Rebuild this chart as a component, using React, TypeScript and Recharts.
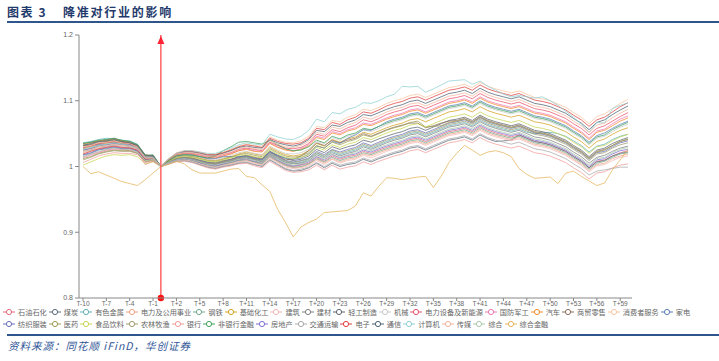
import React from 'react';
import { LineChart, Line, XAxis, YAxis, ReferenceLine } from 'recharts';

const labels = ["T-10","T-9","T-8","T-7","T-6","T-5","T-4","T-3","T-2","T-1","T0",
"T+1","T+2","T+3","T+4","T+5","T+6","T+7","T+8","T+9","T+10",
"T+11","T+12","T+13","T+14","T+15","T+16","T+17","T+18","T+19","T+20",
"T+21","T+22","T+23","T+24","T+25","T+26","T+27","T+28","T+29","T+30",
"T+31","T+32","T+33","T+34","T+35","T+36","T+37","T+38","T+39","T+40",
"T+41","T+42","T+43","T+44","T+45","T+46","T+47","T+48","T+49","T+50",
"T+51","T+52","T+53","T+54","T+55","T+56","T+57","T+58","T+59","T+60"];

const yTicks = [0.8, 0.9, 1, 1.1, 1.2];

const shiyou = [1.031,1.033,1.035,1.038,1.038,1.037,1.034,1.031,1.016,1.014,1.000,
1.006,1.010,1.011,1.010,1.006,1.002,1.001,1.004,1.006,1.010,1.011,1.007,1.005,1.016,1.009,1.003,1.000,1.002,1.005,1.014,1.008,1.016,1.011,1.015,1.017,1.023,1.020,1.025,
1.029,1.033,1.036,1.041,1.043,1.038,1.043,1.048,1.053,1.055,1.058,1.053,1.061,1.055,1.051,1.048,1.045,1.048,1.043,1.038,1.036,1.033,1.028,1.023,1.015,1.008,0.998,
1.008,1.010,1.016,1.021,1.024];
const meitan = [1.035,1.037,1.038,1.041,1.043,1.038,1.038,1.033,1.018,1.016,1.000,
1.004,1.008,1.009,1.007,1.003,0.999,0.997,1.000,1.002,1.005,1.006,1.003,1.000,1.010,1.003,0.996,0.993,0.994,0.998,1.005,0.998,1.005,1.000,1.003,1.005,1.011,1.007,1.012,
1.016,1.020,1.023,1.028,1.030,1.025,1.030,1.035,1.040,1.042,1.045,1.040,1.048,1.042,1.038,1.039,1.040,1.048,1.043,1.038,1.036,1.033,1.028,1.023,1.015,1.008,0.998,
1.007,1.009,1.016,1.020,1.022];
const youse = [1.036,1.038,1.041,1.043,1.042,1.040,1.039,1.034,1.016,1.018,1.000,
1.006,1.011,1.013,1.011,1.008,1.005,1.003,1.006,1.009,1.012,1.014,1.011,1.008,1.019,1.013,1.007,1.005,1.006,1.011,1.020,1.015,1.023,1.018,1.022,1.025,1.032,1.028,1.033,
1.038,1.042,1.045,1.050,1.052,1.047,1.052,1.057,1.062,1.064,1.067,1.062,1.070,1.064,1.060,1.057,1.054,1.057,1.052,1.050,1.051,1.052,1.050,1.046,1.039,1.032,1.022,
1.031,1.034,1.041,1.046,1.049];
const dianli = [1.021,1.024,1.028,1.030,1.032,1.030,1.029,1.025,1.011,1.013,1.000,
1.005,1.009,1.010,1.009,1.005,1.001,1.000,1.003,1.005,1.008,1.009,1.006,1.003,1.014,1.007,1.001,0.998,0.999,1.003,1.011,1.005,1.012,1.007,1.011,1.013,1.019,1.016,1.021,
1.025,1.029,1.032,1.037,1.039,1.034,1.039,1.044,1.049,1.051,1.054,1.049,1.057,1.051,1.047,1.044,1.041,1.044,1.039,1.034,1.032,1.029,1.024,1.019,1.011,1.004,0.994,
1.003,1.005,1.012,1.016,1.019];
const gangtie = [1.033,1.034,1.039,1.040,1.040,1.039,1.037,1.031,1.015,1.017,1.000,
1.005,1.009,1.011,1.009,1.005,1.002,1.000,1.003,1.006,1.009,1.010,1.007,1.004,1.015,1.008,1.002,0.999,1.000,1.004,1.012,1.007,1.014,1.009,1.013,1.015,1.021,1.018,1.023,
1.027,1.031,1.034,1.039,1.041,1.036,1.041,1.046,1.051,1.053,1.056,1.051,1.059,1.053,1.049,1.046,1.043,1.046,1.041,1.036,1.034,1.031,1.026,1.021,1.013,1.006,0.996,
1.005,1.008,1.014,1.019,1.021];
const jichu = [1.027,1.030,1.033,1.035,1.037,1.035,1.033,1.029,1.014,1.015,1.000,
1.008,1.015,1.017,1.016,1.013,1.010,1.009,1.012,1.015,1.019,1.022,1.019,1.017,1.029,1.023,1.018,1.016,1.018,1.024,1.035,1.031,1.041,1.037,1.042,1.045,1.052,1.049,1.054,
1.059,1.063,1.066,1.071,1.073,1.068,1.073,1.078,1.083,1.085,1.088,1.083,1.091,1.085,1.081,1.078,1.075,1.078,1.073,1.068,1.066,1.063,1.058,1.053,1.045,1.038,1.028,
1.038,1.042,1.049,1.055,1.059];
const jianzhu = [1.013,1.017,1.021,1.024,1.026,1.025,1.024,1.021,1.008,1.010,1.000,
1.005,1.009,1.010,1.008,1.004,1.001,0.999,1.002,1.004,1.007,1.009,1.005,1.002,1.013,1.006,0.999,0.997,0.998,1.001,1.009,1.003,1.011,1.005,1.009,1.011,1.017,1.013,1.018,
1.023,1.027,1.030,1.035,1.037,1.032,1.037,1.042,1.047,1.049,1.052,1.047,1.055,1.049,1.045,1.042,1.039,1.042,1.037,1.032,1.030,1.027,1.022,1.017,1.009,1.002,0.992,
1.001,1.003,1.009,1.014,1.016];
const jiancai = [1.028,1.032,1.034,1.037,1.037,1.035,1.035,1.029,1.014,1.016,1.000,
1.006,1.011,1.012,1.011,1.007,1.004,1.003,1.006,1.008,1.012,1.013,1.010,1.007,1.018,1.012,1.006,1.004,1.005,1.009,1.018,1.013,1.021,1.016,1.020,1.023,1.030,1.026,1.031,
1.036,1.040,1.043,1.048,1.050,1.045,1.050,1.055,1.060,1.062,1.065,1.060,1.068,1.062,1.058,1.055,1.052,1.055,1.050,1.045,1.043,1.040,1.035,1.030,1.022,1.015,1.005,
1.014,1.017,1.023,1.028,1.031];
const qinggong = [1.025,1.027,1.031,1.033,1.035,1.033,1.032,1.027,1.013,1.014,1.000,
1.007,1.013,1.014,1.013,1.010,1.007,1.006,1.009,1.011,1.015,1.017,1.014,1.012,1.023,1.017,1.012,1.009,1.011,1.016,1.026,1.021,1.030,1.026,1.030,1.033,1.040,1.037,1.042,
1.046,1.050,1.053,1.058,1.060,1.055,1.060,1.065,1.070,1.072,1.075,1.070,1.078,1.072,1.068,1.065,1.062,1.065,1.060,1.055,1.053,1.050,1.045,1.040,1.032,1.025,1.015,
1.025,1.028,1.035,1.040,1.044];
const jixie = [1.022,1.025,1.029,1.031,1.033,1.031,1.030,1.026,1.012,1.013,1.000,
1.009,1.015,1.018,1.017,1.014,1.011,1.010,1.013,1.017,1.021,1.023,1.020,1.018,1.031,1.025,1.020,1.019,1.021,1.026,1.038,1.035,1.044,1.040,1.046,1.049,1.056,1.053,1.058,
1.064,1.068,1.071,1.076,1.078,1.073,1.078,1.083,1.088,1.090,1.093,1.088,1.096,1.090,1.086,1.083,1.080,1.083,1.078,1.073,1.071,1.068,1.063,1.058,1.050,1.043,1.033,
1.043,1.046,1.053,1.060,1.064];
const diansheng = [1.029,1.031,1.035,1.036,1.038,1.036,1.034,1.030,1.015,1.015,1.000,
1.010,1.018,1.020,1.020,1.018,1.015,1.015,1.018,1.021,1.026,1.028,1.026,1.024,1.037,1.032,1.028,1.027,1.029,1.035,1.049,1.046,1.056,1.053,1.059,1.063,1.071,1.068,1.073,
1.079,1.083,1.086,1.091,1.093,1.088,1.093,1.098,1.103,1.105,1.108,1.103,1.111,1.105,1.101,1.098,1.095,1.098,1.093,1.088,1.086,1.083,1.078,1.073,1.065,1.058,1.048,
1.058,1.062,1.069,1.076,1.082];
const guofang = [1.014,1.018,1.022,1.025,1.027,1.026,1.025,1.022,1.003,1.008,1.000,
1.010,1.017,1.020,1.019,1.017,1.014,1.013,1.016,1.020,1.024,1.027,1.024,1.023,1.036,1.030,1.026,1.024,1.027,1.033,1.046,1.043,1.053,1.050,1.056,1.059,1.066,1.064,1.069,
1.074,1.078,1.081,1.086,1.088,1.083,1.088,1.093,1.098,1.100,1.103,1.098,1.106,1.100,1.096,1.093,1.090,1.093,1.088,1.083,1.081,1.078,1.073,1.068,1.060,1.053,1.043,
1.054,1.057,1.065,1.072,1.077];
const qiche = [1.034,1.036,1.039,1.040,1.042,1.039,1.037,1.032,1.017,1.017,1.000,
1.010,1.017,1.019,1.019,1.016,1.013,1.013,1.016,1.019,1.024,1.026,1.023,1.022,1.035,1.029,1.025,1.023,1.026,1.031,1.044,1.041,1.051,1.048,1.054,1.057,1.064,1.062,1.067,
1.072,1.076,1.079,1.084,1.086,1.081,1.086,1.091,1.096,1.098,1.101,1.096,1.104,1.098,1.094,1.091,1.088,1.091,1.086,1.081,1.079,1.076,1.071,1.066,1.058,1.051,1.041,
1.052,1.055,1.062,1.069,1.074];
const shangmao = [1.031,1.033,1.037,1.038,1.040,1.037,1.036,1.031,1.016,1.016,1.000,
1.007,1.012,1.014,1.013,1.009,1.006,1.005,1.008,1.011,1.014,1.016,1.013,1.011,1.022,1.016,1.010,1.011,1.016,1.024,1.036,1.032,1.040,1.036,1.040,1.043,1.050,1.046,1.051,
1.056,1.060,1.063,1.066,1.066,1.059,1.062,1.066,1.069,1.070,1.073,1.068,1.076,1.070,1.066,1.063,1.060,1.063,1.058,1.053,1.051,1.048,1.043,1.038,1.030,1.023,1.013,
1.023,1.026,1.032,1.038,1.041];
const xiaofei = [1.030,1.032,1.036,1.037,1.039,1.036,1.035,1.030,1.015,1.015,1.000,
1.012,1.021,1.024,1.024,1.022,1.019,1.019,1.022,1.026,1.031,1.034,1.032,1.031,1.045,1.040,1.037,1.036,1.039,1.046,1.061,1.059,1.070,1.068,1.075,1.079,1.087,1.085,1.090,
1.096,1.100,1.103,1.108,1.110,1.105,1.110,1.115,1.120,1.122,1.125,1.120,1.128,1.122,1.118,1.115,1.112,1.115,1.110,1.105,1.103,1.100,1.095,1.090,1.082,1.075,1.065,
1.076,1.080,1.088,1.096,1.102];
const jiadian = [1.017,1.020,1.025,1.027,1.029,1.027,1.027,1.023,1.010,1.011,1.000,
1.009,1.016,1.018,1.018,1.015,1.012,1.012,1.015,1.015,1.015,1.016,1.012,1.010,1.023,1.017,1.013,1.011,1.013,1.019,1.031,1.028,1.038,1.035,1.043,1.048,1.056,1.055,1.061,
1.068,1.072,1.075,1.080,1.082,1.077,1.082,1.087,1.092,1.094,1.097,1.092,1.100,1.094,1.090,1.087,1.084,1.087,1.082,1.077,1.075,1.072,1.067,1.062,1.054,1.047,1.037,
1.047,1.051,1.058,1.064,1.069];
const fangzhi = [1.018,1.021,1.026,1.028,1.030,1.028,1.028,1.024,1.010,1.012,1.000,
1.007,1.012,1.014,1.012,1.009,1.006,1.004,1.007,1.010,1.014,1.015,1.012,1.010,1.021,1.015,1.009,1.007,1.009,1.013,1.023,1.018,1.026,1.022,1.026,1.029,1.036,1.032,1.037,
1.042,1.046,1.049,1.054,1.056,1.051,1.056,1.061,1.066,1.068,1.071,1.066,1.074,1.068,1.064,1.061,1.058,1.061,1.056,1.051,1.049,1.046,1.041,1.036,1.028,1.021,1.011,
1.021,1.023,1.030,1.036,1.039];
const yiyao = [1.012,1.015,1.020,1.023,1.025,1.024,1.024,1.020,1.008,1.010,1.000,
1.008,1.014,1.016,1.015,1.012,1.009,1.008,1.011,1.014,1.018,1.020,1.017,1.015,1.027,1.021,1.016,1.014,1.016,1.021,1.032,1.028,1.037,1.033,1.038,1.041,1.048,1.045,1.050,
1.055,1.059,1.062,1.067,1.069,1.060,1.061,1.062,1.067,1.069,1.072,1.067,1.075,1.069,1.065,1.062,1.059,1.062,1.057,1.052,1.050,1.047,1.042,1.037,1.029,1.022,1.012,
1.022,1.025,1.032,1.038,1.042];
const shipin = [1.002,1.007,1.012,1.016,1.018,1.017,1.018,1.015,1.004,1.007,1.000,
1.008,1.013,1.015,1.014,1.011,1.008,1.007,1.010,1.013,1.017,1.018,1.015,1.013,1.025,1.019,1.014,1.012,1.014,1.018,1.029,1.025,1.033,1.029,1.034,1.037,1.044,1.041,1.046,
1.051,1.055,1.058,1.063,1.065,1.060,1.065,1.070,1.075,1.077,1.080,1.075,1.083,1.077,1.073,1.070,1.067,1.070,1.065,1.060,1.058,1.055,1.050,1.045,1.037,1.030,1.020,
1.030,1.032,1.039,1.045,1.049];
const nonglin = [1.010,1.014,1.019,1.022,1.024,1.023,1.023,1.020,1.007,1.009,1.000,
1.007,1.012,1.013,1.012,1.008,1.005,1.004,1.007,1.009,1.013,1.015,1.011,1.009,1.020,1.014,1.008,1.006,1.008,1.012,1.021,1.016,1.025,1.020,1.024,1.027,1.034,1.030,1.035,
1.040,1.044,1.047,1.052,1.054,1.049,1.054,1.059,1.064,1.066,1.069,1.064,1.072,1.066,1.062,1.059,1.056,1.059,1.054,1.049,1.047,1.044,1.039,1.034,1.026,1.019,1.009,
1.019,1.021,1.028,1.033,1.036];
const yinhang = [1.006,1.011,1.016,1.019,1.021,1.020,1.020,1.018,1.006,1.008,1.000,
1.004,1.007,1.008,1.006,1.002,0.998,0.996,0.999,1.001,1.004,1.005,1.001,0.998,1.008,1.001,0.994,0.991,0.992,0.995,1.002,0.995,1.002,0.996,0.999,1.001,1.007,1.003,1.008,
1.012,1.016,1.019,1.024,1.026,1.021,1.026,1.031,1.036,1.038,1.041,1.036,1.044,1.038,1.034,1.031,1.028,1.031,1.026,1.021,1.019,1.016,1.011,1.006,0.998,0.991,0.981,
0.990,0.992,0.998,1.002,1.004];
const feiyin = [1.035,1.037,1.040,1.041,1.043,1.040,1.038,1.033,1.017,1.017,1.000,
1.009,1.016,1.018,1.017,1.015,1.013,1.016,1.024,1.030,1.037,1.038,1.036,1.034,1.040,1.033,1.027,1.024,1.025,1.030,1.040,1.036,1.046,1.042,1.048,1.051,1.058,1.056,1.061,
1.066,1.070,1.073,1.078,1.080,1.075,1.080,1.085,1.090,1.092,1.095,1.090,1.098,1.092,1.088,1.085,1.082,1.085,1.080,1.075,1.073,1.070,1.065,1.060,1.052,1.045,1.035,
1.045,1.048,1.056,1.062,1.067];
const fangdichan = [1.025,1.028,1.033,1.033,1.035,1.033,1.033,1.027,1.013,1.015,1.000,
1.006,1.010,1.012,1.010,1.006,1.003,1.001,1.004,1.007,1.010,1.012,1.008,1.006,1.017,1.010,1.004,1.001,1.003,1.007,1.015,1.010,1.018,1.013,1.017,1.019,1.025,1.022,1.027,
1.031,1.035,1.038,1.043,1.045,1.040,1.045,1.050,1.055,1.057,1.060,1.055,1.063,1.057,1.053,1.050,1.047,1.050,1.045,1.040,1.038,1.035,1.030,1.025,1.017,1.010,1.000,
1.010,1.012,1.019,1.024,1.026];
const jiaotong = [1.024,1.025,1.031,1.031,1.033,1.033,1.030,1.028,1.012,1.014,1.000,
1.005,1.008,1.009,1.007,1.003,1.000,0.998,1.001,1.003,1.006,1.007,1.003,1.001,1.011,1.004,0.997,0.994,0.996,0.999,1.006,1.000,1.007,1.002,1.005,1.007,1.013,1.009,1.014,
1.018,1.022,1.025,1.030,1.032,1.027,1.032,1.037,1.042,1.044,1.047,1.042,1.050,1.044,1.040,1.037,1.034,1.037,1.032,1.027,1.025,1.022,1.017,1.012,1.004,0.997,0.987,
0.993,0.995,0.997,0.999,0.999];
const dianzi = [1.019,1.023,1.027,1.029,1.031,1.029,1.028,1.025,1.011,1.012,1.000,
1.011,1.020,1.023,1.023,1.021,1.018,1.018,1.021,1.025,1.030,1.033,1.031,1.029,1.043,1.038,1.035,1.034,1.036,1.043,1.058,1.056,1.067,1.064,1.071,1.075,1.083,1.081,1.086,
1.092,1.096,1.099,1.104,1.106,1.101,1.106,1.111,1.116,1.118,1.121,1.116,1.124,1.118,1.114,1.111,1.108,1.111,1.106,1.101,1.099,1.096,1.091,1.086,1.078,1.071,1.061,
1.071,1.075,1.083,1.091,1.097];
const tongxin = [1.032,1.035,1.038,1.039,1.041,1.038,1.036,1.032,1.016,1.016,1.000,
1.011,1.019,1.022,1.022,1.020,1.017,1.017,1.020,1.024,1.029,1.031,1.029,1.028,1.041,1.036,1.033,1.031,1.034,1.041,1.055,1.053,1.063,1.061,1.067,1.071,1.079,1.077,1.082,
1.087,1.091,1.094,1.099,1.101,1.096,1.101,1.106,1.111,1.113,1.116,1.111,1.119,1.113,1.109,1.106,1.103,1.106,1.101,1.096,1.094,1.091,1.086,1.081,1.073,1.066,1.056,
1.067,1.071,1.079,1.086,1.092];
const jisuanji = [1.026,1.029,1.032,1.034,1.036,1.034,1.032,1.028,1.014,1.014,1.000,
1.012,1.020,1.024,1.024,1.022,1.020,1.020,1.024,1.028,1.033,1.036,1.034,1.033,1.049,1.045,1.042,1.041,1.046,1.055,1.072,
1.068,1.082,1.080,1.087,1.090,1.097,1.096,1.100,1.106,1.110,1.122,1.121,1.122,1.113,1.118,1.124,1.130,1.131,1.132,1.125,
1.130,1.122,1.116,1.110,1.106,1.108,1.106,1.104,1.106,1.100,1.093,1.084,1.075,1.064,1.052,1.067,1.066,1.088,1.093,1.097];
const chuanmei = [1.023,1.026,1.030,1.032,1.034,1.032,1.031,1.027,1.013,1.013,1.000,
1.011,1.019,1.021,1.021,1.019,1.016,1.016,1.019,1.022,1.027,1.030,1.027,1.026,1.039,1.034,1.030,1.029,1.032,1.038,1.052,1.049,1.060,1.057,1.063,1.067,1.075,1.072,1.077,
1.083,1.087,1.090,1.095,1.097,1.092,1.097,1.102,1.107,1.109,1.112,1.107,1.115,1.109,1.105,1.102,1.099,1.102,1.097,1.092,1.090,1.087,1.082,1.077,1.069,1.062,1.052,
1.063,1.066,1.074,1.081,1.087];
const zonghe = [1.015,1.019,1.023,1.026,1.028,1.026,1.026,1.022,1.009,1.011,1.000,
1.006,1.010,1.012,1.010,1.007,1.003,1.002,1.005,1.007,1.011,1.012,1.009,1.006,1.017,1.011,1.005,1.002,1.004,1.008,1.017,1.011,1.019,1.014,1.018,1.021,1.027,1.024,1.029,
1.033,1.037,1.040,1.045,1.047,1.042,1.047,1.052,1.057,1.059,1.062,1.057,1.065,1.059,1.055,1.052,1.049,1.052,1.047,1.042,1.040,1.037,1.032,1.027,1.019,1.012,1.002,
1.012,1.014,1.021,1.026,1.029];
const zonghejinrong = [1.000,0.989,0.992,0.987,0.982,0.977,0.974,0.971,0.980,0.990,1.000,
1.003,1.008,1.004,0.995,0.990,0.990,0.990,0.993,0.996,0.997,
0.985,0.983,0.972,0.962,0.935,0.915,0.893,0.908,0.915,0.920,
0.930,0.931,0.932,0.933,0.940,0.960,0.955,0.970,0.983,0.982,
0.980,0.982,0.984,0.985,0.968,0.985,1.006,1.020,1.032,1.025,
1.017,1.022,1.024,1.021,1.015,0.997,0.988,0.982,0.983,0.984,
0.974,0.990,0.993,0.985,0.978,0.971,0.975,0.995,1.010,1.026];

const seriesNames = ["石油石化","煤炭","有色金属","电力及公用事业","钢铁","基础化工","建筑","建材","轻工制造","机械","电力设备及新能源","国防军工","汽车","商贸零售","消费者服务","家电",
"纺织服装","医药","食品饮料","农林牧渔","银行","非银行金融","房地产","交通运输","电子","通信","计算机","传媒","综合","综合金融"];
const seriesValues = [shiyou, meitan, youse, dianli, gangtie, jichu, jianzhu, jiancai, qinggong, jixie, diansheng, guofang, qiche, shangmao, xiaofei, jiadian,
fangzhi, yiyao, shipin, nonglin, yinhang, feiyin, fangdichan, jiaotong, dianzi, tongxin, jisuanji, chuanmei, zonghe, zonghejinrong];

const colors = ["#e36a7c","#5d6c7c","#62b2b6","#f2a283","#71a98c","#d4a21f","#f3b7b5","#808080","#5c666e","#c9c9c9","#e8546c","#ef78b5","#f18c2a","#8d6e5b","#f7c69f","#5b7db4",
"#6b70b8","#9c9c50","#c8d650","#9d9c6e","#f09c9a","#3fa25c","#7c70d0","#aaaaaa","#e04040","#4c6272","#8fd0d2","#f2b59b","#abcaab","#e3b45a"];

const row1 = seriesNames.slice(0, 16);
const row2 = seriesNames.slice(16);

function Marker(props: any) {
  const vb = props.viewBox || {};
  const x = vb.x || 0;
  const y = vb.y || 0;
  const h = vb.height || 0;
  return (
    <g>
      <polygon points={`${x},${y + 1} ${x - 3.5},${y + 9} ${x + 3.5},${y + 9}`} fill="#f23" />
      <circle cx={x} cy={y + h} r={3.2} fill="#f11" />
    </g>
  );
}

function LegendItem({ name, color }: { name: string; color: string }) {
  return (
    <div style={{ display: 'flex', alignItems: 'center', marginRight: 2 }}>
      <svg width={12} height={8} style={{ marginRight: 3 }}>
        <line x1={0} y1={4} x2={12} y2={4} stroke={color} strokeWidth={1} />
        <circle cx={6} cy={4} r={2.6} fill="#fff" stroke={color} strokeWidth={1} />
      </svg>
      <span style={{ fontSize: 7.2, color: '#666', lineHeight: '8px', whiteSpace: 'nowrap' }}>{name}</span>
    </div>
  );
}

export default function App() {
  const data = labels.map((label, i) => {
    const row: any = { label };
    seriesNames.forEach((n, k) => { row[n] = seriesValues[k][i]; });
    return row;
  });
  const colorOf = (n: string) => colors[seriesNames.indexOf(n)];
  return (
    <div style={{ position: 'absolute', left: 0, top: 0, width: 719, height: 361, background: '#fff', overflow: 'hidden', fontFamily: '"Noto Sans CJK SC", "Noto Sans", sans-serif' }}>
      <div style={{ position: 'absolute', left: 7, top: 3, fontSize: 12, fontWeight: 700, color: '#1f3a6b', letterSpacing: 1.6, lineHeight: '18px', whiteSpace: 'pre' }}>图表 3</div>
      <div style={{ position: 'absolute', left: 63, top: 3, fontSize: 12, fontWeight: 700, color: '#1f3a6b', letterSpacing: 1.75, lineHeight: '18px', whiteSpace: 'pre' }}>降准对行业的影响</div>
      <div style={{ position: 'absolute', left: 7, top: 21, width: 712, height: 2, background: '#2f558f' }} />
      <div style={{ position: 'absolute', left: 0, top: 0 }}>
        <LineChart width={719} height={361} data={data} margin={{ top: 35, right: 87, bottom: 33, left: 39 }}>
          <XAxis dataKey="label" interval={2} height={30} padding={{ left: 4, right: 4 }}
            tick={{ fontSize: 6.5, fill: '#666', fontFamily: '"Liberation Sans", Arial, sans-serif' }}
            tickSize={3} tickMargin={0} axisLine={{ stroke: '#888' }} tickLine={{ stroke: '#888' }} />
          <YAxis type="number" domain={[0.8, 1.2]} ticks={yTicks} width={40} allowDataOverflow
            tick={{ fontSize: 7, fill: '#666', fontFamily: '"Liberation Sans", Arial, sans-serif' }}
            tickSize={4} tickMargin={2} axisLine={{ stroke: '#888' }} tickLine={{ stroke: '#888' }} />
          {seriesNames.map((n, k) => (
            <Line key={n} dataKey={n} type="linear" stroke={colors[k]} strokeWidth={1} strokeOpacity={0.75}
              dot={false} activeDot={false} isAnimationActive={false} />
          ))}
          <ReferenceLine x="T0" stroke="#ff6262" strokeWidth={1.5} label={<Marker />} />
        </LineChart>
      </div>
      <div style={{ position: 'absolute', left: 3, top: 308, display: 'flex' }}>
        {row1.map((n) => <LegendItem key={n} name={n} color={colorOf(n)} />)}
      </div>
      <div style={{ position: 'absolute', left: 3, top: 320, display: 'flex' }}>
        {row2.map((n) => <LegendItem key={n} name={n} color={colorOf(n)} />)}
      </div>
      <div style={{ position: 'absolute', left: 7, top: 334, width: 712, height: 2, background: '#2f558f' }} />
      <div style={{ position: 'absolute', left: 8, top: 339, fontSize: 10.5, fontStyle: 'italic', color: '#2f5597', letterSpacing: 1, lineHeight: '13px', whiteSpace: 'pre' }}>资料来源：同花顺 iFinD，华创证券</div>
    </div>
  );
}
